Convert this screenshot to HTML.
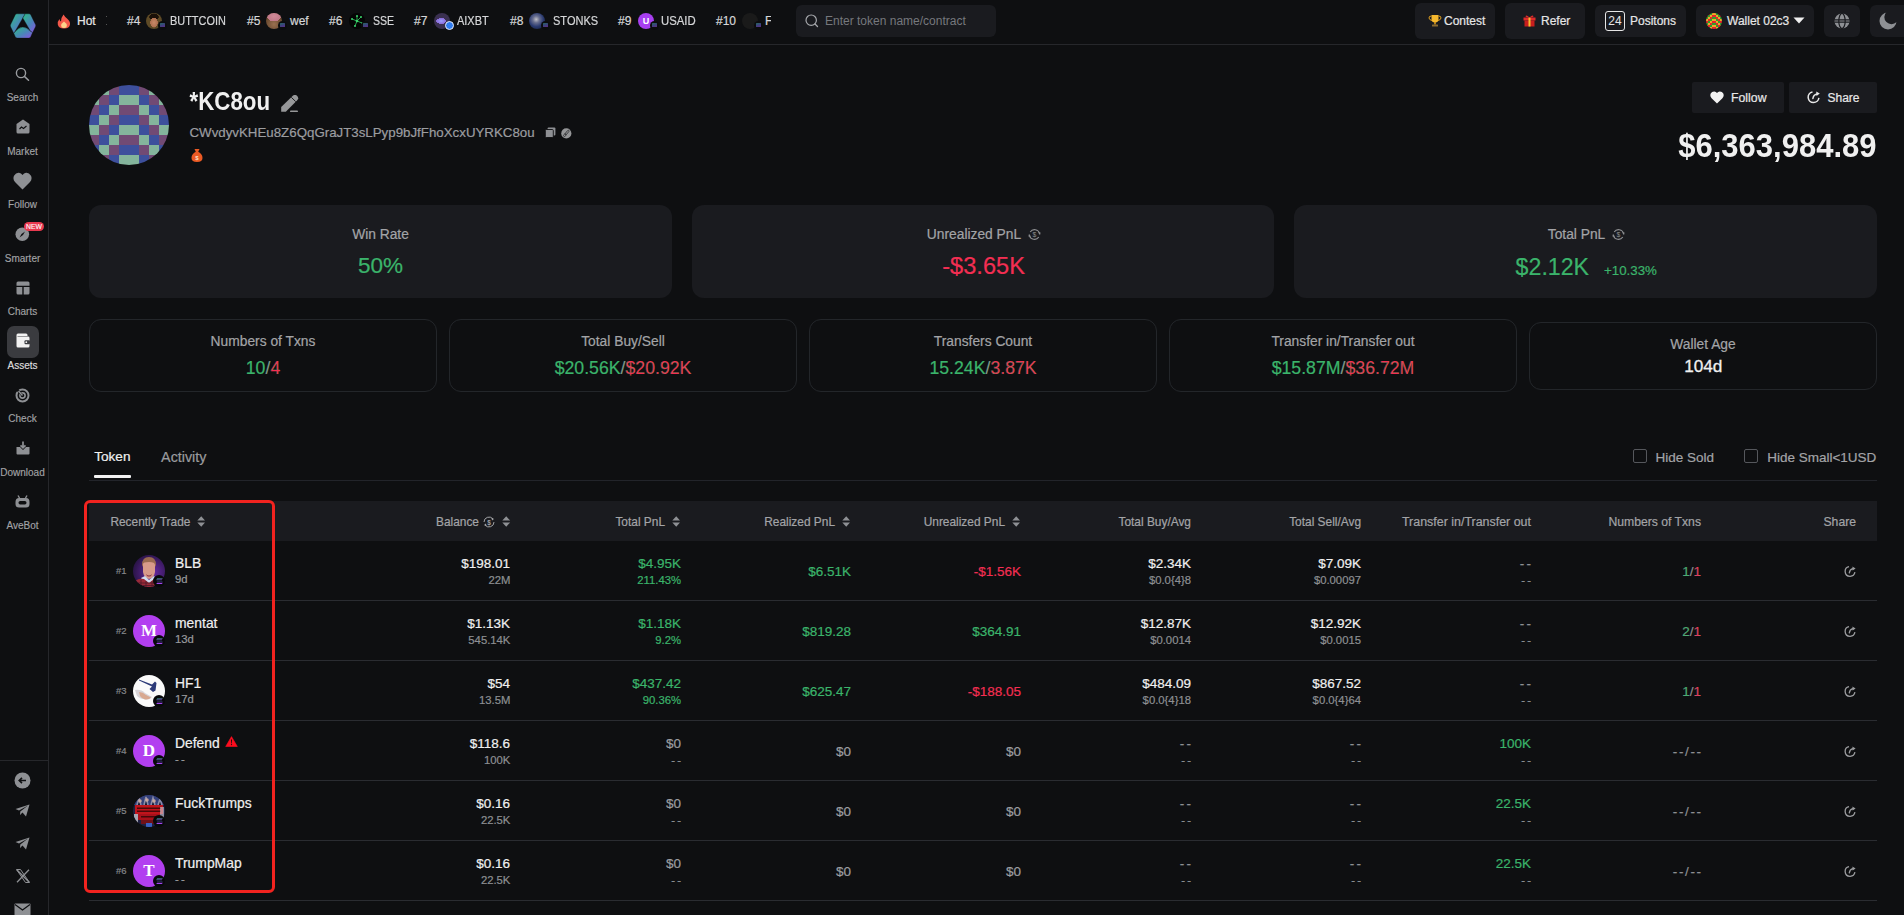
<!DOCTYPE html>
<html><head><meta charset="utf-8">
<style>
*{margin:0;padding:0;box-sizing:border-box}
html,body{width:1904px;height:915px;overflow:hidden;background:#0e0f11;font-family:"Liberation Sans",sans-serif;color:#e8e8e8}
.a{position:absolute;white-space:nowrap}
#side{position:absolute;left:0;top:0;width:49px;height:915px;border-right:1px solid #26272b;background:#0e0f11}
#top{position:absolute;left:49px;top:0;width:1855px;height:45px;border-bottom:1px solid #26272b}
.sl{position:absolute;left:-0.5px;width:46px;text-align:center;font-size:10px;line-height:12px;color:#a2a3a6;-webkit-text-stroke:0.15px #a2a3a6}
.tk{font-size:12px;color:#d6d7d9;-webkit-text-stroke:0.2px #d6d7d9}
.btn{position:absolute;background:#1a1b1f;border-radius:4px}
.card{position:absolute;background:#1a1b1f;border-radius:10px}
.ocard{position:absolute;border:1px solid #26272b;border-radius:8px}
.lbl{position:absolute;left:0;right:0;text-align:center;font-size:13px;color:#a4a6aa}
.val{position:absolute;left:0;right:0;text-align:center;font-size:18px}
.g{color:#3fb16a}.r{color:#ee3553}.w{color:#f2f2f2}.gr{color:#8c8e93}
</style></head><body>
<div id="side">
<svg class="a" style="left:10px;top:13px" width="27" height="26" viewBox="0 0 27 26">
<defs><linearGradient id="lg" x1="0" y1="0" x2="1" y2="1"><stop offset="0" stop-color="#2cbf86"/><stop offset="0.55" stop-color="#4a86b8"/><stop offset="1" stop-color="#8d4fe6"/></linearGradient></defs>
<g stroke="#0e0f11" stroke-width="0.35" stroke-linejoin="round">
<path d="M15.25 0.8 L7 0.8 Q5.8 0.8 5.2 1.9 L0.6 11.6 Q0.1 12.7 0.6 13.8 L3.83 20.4 L12.8 5Z" fill="url(#lg)"/>
<path d="M15.25 0.8 L19 0.8 Q20.2 0.8 20.8 1.9 L25.5 11.6 Q26 12.7 25.5 13.8 L22.6 19.6 L20.5 18.3 L12.8 5Z" fill="url(#lg)"/>
<path d="M3.83 20.4 L5.4 24 Q6 25.1 7.2 25.1 L18.8 25.1 Q20 25.1 20.6 24 L22.6 19.6 L20.5 18.3 Q16.5 14.1 12.8 14.1 Q9 14.1 4.4 19.4Z" fill="url(#lg)"/>
</g></svg>
<svg class="a" style="left:15px;top:67px" width="15" height="14" viewBox="0 0 15 14"><circle cx="6" cy="6" r="4.6" fill="none" stroke="#9a9ca0" stroke-width="1.4"/><path d="M9.4 9.4 L13.5 13.3" stroke="#9a9ca0" stroke-width="1.5" stroke-linecap="round"/></svg>
<div class="sl" style="top:91.9px">Search</div>
<svg class="a" style="left:16px;top:119px" width="14" height="15" viewBox="0 0 14 15"><path d="M7 0.5 L13.5 5 L13.5 13 Q13.5 14.5 12 14.5 L2 14.5 Q0.5 14.5 0.5 13 L0.5 5Z" fill="#8e9094"/><path d="M3.5 10 L5.5 8 L7.5 9.5 L10.5 7" stroke="#0e0f11" stroke-width="1.1" fill="none"/></svg>
<div class="sl" style="top:145.9px">Market</div>
<svg class="a" style="left:13px;top:172px" width="19" height="18" viewBox="0 0 19 18"><path d="M9.5 17.5 L2 10 Q-0.5 7 1 3.8 Q3 0.5 6 0.8 Q8.2 1 9.5 3 Q10.8 1 13 0.8 Q16 0.5 18 3.8 Q19.5 7 17 10Z" fill="#8e9094"/></svg>
<div class="sl" style="top:198.9px">Follow</div>
<svg class="a" style="left:15px;top:227px" width="15" height="15" viewBox="0 0 15 15"><circle cx="7.3" cy="7.3" r="6.8" fill="#8e9094"/><path d="M10 4.5 L8 8 L4.5 10.5 L6.5 7Z" fill="#0e0f11"/></svg>
<div class="a" style="left:24px;top:222px;width:20px;height:9px;background:#e8394f;border-radius:5px;font-size:6.8px;color:#fff;text-align:center;line-height:9px;-webkit-text-stroke:0.1px #fff">NEW</div>
<div class="sl" style="top:253.1px">Smarter</div>
<svg class="a" style="left:16px;top:281px" width="14" height="14" viewBox="0 0 14 14"><path d="M2 0.5 L12 0.5 Q13.5 0.5 13.5 2 L13.5 4.8 L0.5 4.8 L0.5 2 Q0.5 0.5 2 0.5Z M0.5 6 L6.3 6 L6.3 13.5 L2 13.5 Q0.5 13.5 0.5 12Z M7.7 6 L13.5 6 L13.5 12 Q13.5 13.5 12 13.5 L7.7 13.5Z" fill="#8e9094"/></svg>
<div class="sl" style="top:306.0px">Charts</div>
<div class="a" style="left:7px;top:326px;width:32px;height:32px;background:#3a3b3f;border-radius:7px"></div>
<svg class="a" style="left:16px;top:333px" width="14" height="15" viewBox="0 0 14 15"><path d="M2 0.5 L10 0.5 Q11.5 0.5 11.5 2 L11.5 3 L2 3 Q1.2 3 1.2 3.6 L1.2 3.6 L12 3.6 Q13.5 3.6 13.5 5 L13.5 13 Q13.5 14.5 12 14.5 L2 14.5 Q0.5 14.5 0.5 13 L0.5 2 Q0.5 0.5 2 0.5Z" fill="#f2f2f2"/><rect x="8.5" y="7.2" width="5.5" height="4" rx="1" fill="#3a3b3f"/><circle cx="10.3" cy="9.2" r="0.9" fill="#f2f2f2"/></svg>
<div class="sl" style="top:359.6px;color:#f0f0f0">Assets</div>
<svg class="a" style="left:15px;top:388px" width="15" height="15" viewBox="0 0 15 15"><circle cx="7.5" cy="7.5" r="6" fill="none" stroke="#8e9094" stroke-width="2"/><circle cx="7.5" cy="7.5" r="2.6" fill="none" stroke="#8e9094" stroke-width="1.6"/><path d="M7.5 7.5 L2 1.5" stroke="#0e0f11" stroke-width="2.2"/><path d="M7.5 7.5 L3.5 3" stroke="#8e9094" stroke-width="1.4"/></svg>
<div class="sl" style="top:412.7px">Check</div>
<svg class="a" style="left:16px;top:441px" width="14" height="14" viewBox="0 0 14 14"><path d="M0.5 6 L4 6 L7 9 L10 6 L13.5 6 L13.5 12.5 Q13.5 13.5 12.5 13.5 L1.5 13.5 Q0.5 13.5 0.5 12.5Z" fill="#8e9094"/><path d="M7 0.5 L7 6.5 M4.5 4.3 L7 6.8 L9.5 4.3" stroke="#8e9094" stroke-width="1.7" fill="none"/></svg>
<div class="sl" style="top:466.7px">Download</div>
<svg class="a" style="left:15px;top:495px" width="15" height="13" viewBox="0 0 15 13"><path d="M3 0.5 L4.5 3 M12 0.5 L10.5 3" stroke="#8e9094" stroke-width="1.4"/><path d="M4 3 L11 3 Q14.5 3 14.5 7 L14.5 9 Q14.5 12.5 11 12.5 L4 12.5 Q0.5 12.5 0.5 9 L0.5 7 Q0.5 3 4 3Z" fill="#8e9094"/><rect x="3.5" y="6" width="8" height="3.5" rx="1.7" fill="#0e0f11"/></svg>
<div class="sl" style="top:520.1px">AveBot</div>
<div class="a" style="left:0;top:760px;width:48px;height:1px;background:#26272b"></div>
<svg class="a" style="left:14px;top:772px" width="17" height="17" viewBox="0 0 17 17"><circle cx="8.5" cy="8.5" r="8" fill="#8e9094"/><path d="M12 8.5 L5.5 8.5 M8 5.8 L5.2 8.5 L8 11.2" stroke="#0e0f11" stroke-width="1.6" fill="none"/></svg>
<svg class="a" style="left:15px;top:804px" width="15" height="13" viewBox="0 0 15 13"><path d="M14.5 0.5 L11 12.5 L7.5 8.5 L5 11 L5.3 7.5 L13 1.5 L4 6.5 L0.5 5Z" fill="#8e9094"/></svg>
<svg class="a" style="left:15px;top:837px" width="15" height="13" viewBox="0 0 15 13"><path d="M14.5 0.5 L11 12.5 L7.5 8.5 L5 11 L5.3 7.5 L13 1.5 L4 6.5 L0.5 5Z" fill="#8e9094"/></svg>
<svg class="a" style="left:16px;top:869px" width="14" height="14" viewBox="0 0 14 14"><path d="M0.8 0.8 L13.2 13.2 M13 0.8 L1 13.2" stroke="#8e9094" stroke-width="1.3"/><path d="M0.5 0.5 L4.5 0.5 L13.5 13.5 L9.5 13.5Z" fill="none" stroke="#8e9094" stroke-width="1"/></svg>
<svg class="a" style="left:14px;top:903px" width="17" height="12" viewBox="0 0 17 12"><rect x="0.5" y="0.5" width="16" height="12" rx="1" fill="#8e9094"/><path d="M1 1.5 L8.5 7 L16 1.5" stroke="#0e0f11" stroke-width="1.2" fill="none"/></svg>
</div>
<div id="top"></div>
<svg class="a" style="left:57px;top:14px" width="14" height="15" viewBox="0 0 14 15"><path d="M6.5 0.5 Q8 3 10 4.5 Q13.5 7.5 13 10.5 Q12.5 14.5 7 14.5 Q1.5 14.5 0.8 10.5 Q0.3 7.5 2.5 5 Q2.8 7 4 7.5 Q4 3.5 6.5 0.5Z" fill="#f4584a"/><path d="M7 7.5 Q9.8 9.5 9.8 11.5 Q9.8 14 7 14 Q4.2 14 4.2 11.5 Q4.2 9.5 7 7.5Z" fill="#fdd28a"/></svg>
<div class="a tk" style="left:77px;top:14px;color:#e6e6e6;-webkit-text-stroke:0.2px #e6e6e6">Hot</div>
<div class="a" style="left:106px;top:16px;width:1px;height:1px;background:#555"></div><div class="a" style="left:106px;top:24px;width:1px;height:1px;background:#555"></div>
<div class="a tk" style="left:127px;top:14px">#4</div><div class="a" style="left:146px;top:13px;width:16px;height:16px;border-radius:50%;overflow:hidden"><div style="width:16px;height:16px;background:radial-gradient(ellipse 32% 42% at 50% 60%,#c88a68 0,#b07050 70%,transparent 75%),radial-gradient(ellipse 40% 30% at 50% 25%,#1a1008 0,#1a1008 70%,transparent 75%),#5e4a26"></div></div><div class="a" style="left:158.3px;top:20.5px;width:9px;height:9px;border-radius:50%;background:#0b0c0e"></div><div class="a" style="left:160.3px;top:23px;width:4.5px;height:4px;border-radius:0.5px;background:linear-gradient(160deg,#3aa890,#5a68c8 50%,#9a40d8);opacity:0.6"></div>
<div class="a tk" style="left:170px;top:14px;transform:scaleX(0.91);transform-origin:0 0">BUTTCOIN</div>
<div class="a tk" style="left:247px;top:14px">#5</div><div class="a" style="left:266px;top:13px;width:16px;height:16px;border-radius:50%;overflow:hidden"><div style="width:16px;height:16px;background:radial-gradient(ellipse 60% 45% at 50% 20%,#d08a98 0,#c07888 70%,transparent 72%),radial-gradient(circle at 50% 70%,#9a7050 0,#6a4a30 60%,#3a2a20 100%)"></div></div><div class="a" style="left:278.3px;top:20.5px;width:9px;height:9px;border-radius:50%;background:#0b0c0e"></div><div class="a" style="left:280.3px;top:23px;width:4.5px;height:4px;border-radius:0.5px;background:linear-gradient(160deg,#3aa890,#5a68c8 50%,#9a40d8);opacity:0.6"></div>
<div class="a tk" style="left:290px;top:14px">wef</div>
<div class="a tk" style="left:329px;top:14px">#6</div><div class="a" style="left:349px;top:13px;width:16px;height:16px;border-radius:50%;overflow:hidden"><svg width="16" height="16"><rect width="16" height="16" fill="#050505"/><path d="M3 6 L8 8 L12 4 M8 8 L6 13 M8 8 L13 10 M8 3 L8 8" stroke="#2fb85a" stroke-width="0.9"/><circle cx="8" cy="8" r="1.3" fill="#3ad36b"/><circle cx="3" cy="6" r="1" fill="#3ad36b"/><circle cx="12" cy="4" r="1" fill="#3ad36b"/><circle cx="6" cy="13" r="1" fill="#3ad36b"/><circle cx="13" cy="10" r="1" fill="#3ad36b"/><circle cx="8" cy="3" r="1" fill="#3ad36b"/></svg></div><div class="a" style="left:361.3px;top:20.5px;width:9px;height:9px;border-radius:50%;background:#0b0c0e"></div><div class="a" style="left:363.3px;top:23px;width:4.5px;height:4px;border-radius:0.5px;background:linear-gradient(160deg,#3aa890,#5a68c8 50%,#9a40d8);opacity:0.6"></div>
<div class="a tk" style="left:373px;top:14px;transform:scaleX(0.88);transform-origin:0 0">SSE</div>
<div class="a tk" style="left:414px;top:14px">#7</div><div class="a" style="left:434px;top:13px;width:16px;height:16px;border-radius:50%;overflow:hidden"><div style="width:16px;height:16px;background:radial-gradient(ellipse 50% 30% at 45% 50%,#9aa0ff 0,#8a6ad8 60%,transparent 62%),#3a3050"></div></div><div class="a" style="left:445px;top:21px;width:9px;height:9px;border-radius:50%;background:#2f7cf0;border:1.3px solid #e8eefc"></div>
<div class="a tk" style="left:457px;top:14px;transform:scaleX(0.915);transform-origin:0 0">AIXBT</div>
<div class="a tk" style="left:510px;top:14px">#8</div><div class="a" style="left:529px;top:13px;width:16px;height:16px;border-radius:50%;overflow:hidden"><div style="width:16px;height:16px;background:radial-gradient(circle at 45% 40%,#c0c0c8 0,#6a7090 25%,#2a3a70 55%,#101830 100%)"></div></div><div class="a" style="left:541.3px;top:20.5px;width:9px;height:9px;border-radius:50%;background:#0b0c0e"></div><div class="a" style="left:543.3px;top:23px;width:4.5px;height:4px;border-radius:0.5px;background:linear-gradient(160deg,#3aa890,#5a68c8 50%,#9a40d8);opacity:0.6"></div>
<div class="a tk" style="left:553px;top:14px;transform:scaleX(0.918);transform-origin:0 0">STONKS</div>
<div class="a tk" style="left:618px;top:14px">#9</div><div class="a" style="left:638px;top:13px;width:16px;height:16px;border-radius:50%;overflow:hidden"><div style="width:16px;height:16px;background:#a83ff0;color:#fff;font-size:9px;font-weight:bold;text-align:center;line-height:16px">U</div></div><div class="a" style="left:650.3px;top:20.5px;width:9px;height:9px;border-radius:50%;background:#0b0c0e"></div><div class="a" style="left:652.3px;top:23px;width:4.5px;height:4px;border-radius:0.5px;background:linear-gradient(160deg,#3aa890,#5a68c8 50%,#9a40d8);opacity:0.6"></div>
<div class="a tk" style="left:661px;top:14px;transform:scaleX(0.946);transform-origin:0 0">USAID</div>
<div class="a tk" style="left:716px;top:14px">#10</div><div class="a" style="left:742px;top:13px;width:16px;height:16px;border-radius:50%;overflow:hidden"><div style="width:16px;height:16px;background:#1a1a1a"></div></div><div class="a" style="left:754.3px;top:20.5px;width:9px;height:9px;border-radius:50%;background:#0b0c0e"></div><div class="a" style="left:756.3px;top:23px;width:4.5px;height:4px;border-radius:0.5px;background:linear-gradient(160deg,#3aa890,#5a68c8 50%,#9a40d8);opacity:0.6"></div>
<div class="a tk" style="left:765px;top:14px;width:6px;overflow:hidden">F</div>
<div class="btn" style="left:796px;top:5px;width:200px;height:32px;border-radius:6px"></div>
<svg class="a" style="left:805px;top:14px" width="14" height="14" viewBox="0 0 14 14"><circle cx="6.2" cy="6.2" r="5.2" fill="none" stroke="#a6a8ac" stroke-width="1.2"/><path d="M10 10 L12.5 12.5" stroke="#a6a8ac" stroke-width="1.3" stroke-linecap="round"/></svg>
<div class="a" style="left:825px;top:14px;font-size:12px;color:#76787d">Enter token name/contract</div>
<div class="btn" style="left:1415px;top:3px;width:80px;height:36px;border-radius:6px"></div>
<svg class="a" style="left:1428px;top:14px" width="14" height="13" viewBox="0 0 14 13"><path d="M3.5 1 L10.5 1 L10.5 5 Q10.5 8.5 7 8.5 Q3.5 8.5 3.5 5Z" fill="#f5b82e"/><path d="M3.5 2 Q0.8 2 1 4 Q1.3 6 4 6.5 M10.5 2 Q13.2 2 13 4 Q12.7 6 10 6.5" stroke="#e0a020" stroke-width="1" fill="none"/><rect x="6.2" y="8" width="1.6" height="2.5" fill="#d89a1a"/><rect x="4" y="10.5" width="6" height="2" rx="0.5" fill="#8a6a30"/></svg>
<div class="a" style="left:1444px;top:14px;font-size:12px;color:#e6e6e6;-webkit-text-stroke:0.2px #e6e6e6">Contest</div>
<div class="btn" style="left:1505px;top:3px;width:80px;height:36px;border-radius:6px"></div>
<svg class="a" style="left:1523px;top:14px" width="13" height="13" viewBox="0 0 13 13"><rect x="0.5" y="3.5" width="12" height="3" fill="#e02a2a"/><rect x="1.5" y="6.5" width="10" height="6" fill="#c81e1e"/><rect x="5.5" y="3.5" width="2" height="9" fill="#f5c030"/><path d="M6.5 3.5 Q3 0 2.5 2.5 Q3 3.5 6.5 3.5 Q10 3.5 10.5 2.5 Q10 0 6.5 3.5" fill="#e02a2a"/></svg>
<div class="a" style="left:1541px;top:14px;font-size:12px;color:#e6e6e6;-webkit-text-stroke:0.2px #e6e6e6">Refer</div>
<div class="btn" style="left:1595px;top:5px;width:91px;height:32px;border-radius:6px"></div>
<div class="a" style="left:1605px;top:11px;width:20px;height:20px;border:1.3px solid #e6e6e6;border-radius:3px;font-size:12px;color:#e6e6e6;text-align:center;line-height:18px">24</div>
<div class="a" style="left:1630px;top:14px;font-size:12px;color:#e6e6e6;-webkit-text-stroke:0.2px #e6e6e6">Positons</div>
<div class="btn" style="left:1696px;top:5px;width:118px;height:32px;border-radius:6px"></div>
<svg class="a" style="left:1706px;top:13px" width="16" height="16" viewBox="0 0 16 16"><defs><clipPath id="wc"><circle cx="8" cy="8" r="8"/></clipPath></defs><g clip-path="url(#wc)"><rect x="0" y="0" width="2.05" height="2.05" fill="#eda92a"/><rect x="2" y="0" width="2.05" height="2.05" fill="#e3262a"/><rect x="4" y="0" width="2.05" height="2.05" fill="#2fa02c"/><rect x="6" y="0" width="2.05" height="2.05" fill="#eda92a"/><rect x="8" y="0" width="2.05" height="2.05" fill="#eda92a"/><rect x="10" y="0" width="2.05" height="2.05" fill="#2fa02c"/><rect x="12" y="0" width="2.05" height="2.05" fill="#e3262a"/><rect x="14" y="0" width="2.05" height="2.05" fill="#eda92a"/><rect x="0" y="2" width="2.05" height="2.05" fill="#e3262a"/><rect x="2" y="2" width="2.05" height="2.05" fill="#2fa02c"/><rect x="4" y="2" width="2.05" height="2.05" fill="#eda92a"/><rect x="6" y="2" width="2.05" height="2.05" fill="#e3262a"/><rect x="8" y="2" width="2.05" height="2.05" fill="#e3262a"/><rect x="10" y="2" width="2.05" height="2.05" fill="#eda92a"/><rect x="12" y="2" width="2.05" height="2.05" fill="#2fa02c"/><rect x="14" y="2" width="2.05" height="2.05" fill="#e3262a"/><rect x="0" y="4" width="2.05" height="2.05" fill="#2fa02c"/><rect x="2" y="4" width="2.05" height="2.05" fill="#eda92a"/><rect x="4" y="4" width="2.05" height="2.05" fill="#e3262a"/><rect x="6" y="4" width="2.05" height="2.05" fill="#2fa02c"/><rect x="8" y="4" width="2.05" height="2.05" fill="#2fa02c"/><rect x="10" y="4" width="2.05" height="2.05" fill="#e3262a"/><rect x="12" y="4" width="2.05" height="2.05" fill="#eda92a"/><rect x="14" y="4" width="2.05" height="2.05" fill="#2fa02c"/><rect x="0" y="6" width="2.05" height="2.05" fill="#eda92a"/><rect x="2" y="6" width="2.05" height="2.05" fill="#e3262a"/><rect x="4" y="6" width="2.05" height="2.05" fill="#2fa02c"/><rect x="6" y="6" width="2.05" height="2.05" fill="#eda92a"/><rect x="8" y="6" width="2.05" height="2.05" fill="#eda92a"/><rect x="10" y="6" width="2.05" height="2.05" fill="#2fa02c"/><rect x="12" y="6" width="2.05" height="2.05" fill="#e3262a"/><rect x="14" y="6" width="2.05" height="2.05" fill="#eda92a"/><rect x="0" y="8" width="2.05" height="2.05" fill="#e3262a"/><rect x="2" y="8" width="2.05" height="2.05" fill="#2fa02c"/><rect x="4" y="8" width="2.05" height="2.05" fill="#eda92a"/><rect x="6" y="8" width="2.05" height="2.05" fill="#e3262a"/><rect x="8" y="8" width="2.05" height="2.05" fill="#e3262a"/><rect x="10" y="8" width="2.05" height="2.05" fill="#eda92a"/><rect x="12" y="8" width="2.05" height="2.05" fill="#2fa02c"/><rect x="14" y="8" width="2.05" height="2.05" fill="#e3262a"/><rect x="0" y="10" width="2.05" height="2.05" fill="#2fa02c"/><rect x="2" y="10" width="2.05" height="2.05" fill="#eda92a"/><rect x="4" y="10" width="2.05" height="2.05" fill="#e3262a"/><rect x="6" y="10" width="2.05" height="2.05" fill="#2fa02c"/><rect x="8" y="10" width="2.05" height="2.05" fill="#2fa02c"/><rect x="10" y="10" width="2.05" height="2.05" fill="#e3262a"/><rect x="12" y="10" width="2.05" height="2.05" fill="#eda92a"/><rect x="14" y="10" width="2.05" height="2.05" fill="#2fa02c"/><rect x="0" y="12" width="2.05" height="2.05" fill="#eda92a"/><rect x="2" y="12" width="2.05" height="2.05" fill="#e3262a"/><rect x="4" y="12" width="2.05" height="2.05" fill="#2fa02c"/><rect x="6" y="12" width="2.05" height="2.05" fill="#eda92a"/><rect x="8" y="12" width="2.05" height="2.05" fill="#eda92a"/><rect x="10" y="12" width="2.05" height="2.05" fill="#2fa02c"/><rect x="12" y="12" width="2.05" height="2.05" fill="#e3262a"/><rect x="14" y="12" width="2.05" height="2.05" fill="#eda92a"/><rect x="0" y="14" width="2.05" height="2.05" fill="#e3262a"/><rect x="2" y="14" width="2.05" height="2.05" fill="#2fa02c"/><rect x="4" y="14" width="2.05" height="2.05" fill="#eda92a"/><rect x="6" y="14" width="2.05" height="2.05" fill="#e3262a"/><rect x="8" y="14" width="2.05" height="2.05" fill="#e3262a"/><rect x="10" y="14" width="2.05" height="2.05" fill="#eda92a"/><rect x="12" y="14" width="2.05" height="2.05" fill="#2fa02c"/><rect x="14" y="14" width="2.05" height="2.05" fill="#e3262a"/></g></svg>
<div class="a" style="left:1727px;top:14px;font-size:12px;color:#e6e6e6;-webkit-text-stroke:0.2px #e6e6e6">Wallet 02c3</div>
<svg class="a" style="left:1793px;top:17px" width="12" height="7" viewBox="0 0 12 7"><path d="M0.5 0.5 L11.5 0.5 L6 6.5Z" fill="#f0f0f0"/></svg>
<div class="btn" style="left:1824px;top:5px;width:36px;height:32px;border-radius:6px"></div>
<svg class="a" style="left:1834px;top:13px" width="16" height="16" viewBox="0 0 16 16"><circle cx="8" cy="8" r="7.5" fill="#8e9094"/><path d="M0.5 6.8 L15.5 6.8 M0.5 9.2 L15.5 9.2" stroke="#1a1b1f" stroke-width="1.2"/><ellipse cx="8" cy="8" rx="3.2" ry="7.5" fill="none" stroke="#1a1b1f" stroke-width="1.2"/></svg>
<div class="btn" style="left:1870px;top:5px;width:40px;height:32px;border-radius:6px"></div>
<svg class="a" style="left:1879px;top:11px" width="18" height="19" viewBox="0 0 18 19"><defs><mask id="mm"><rect width="18" height="19" fill="#fff"/><circle cx="12.5" cy="6" r="7.2" fill="#000"/></mask></defs><circle cx="9" cy="10" r="8.5" fill="#8e9094" mask="url(#mm)"/></svg>

<svg class="a" style="left:89px;top:85px" width="80" height="80" viewBox="0 0 80 80"><defs><clipPath id="cav"><circle cx="40" cy="40" r="40"/></clipPath></defs><g clip-path="url(#cav)"><rect x="0" y="0" width="10.2" height="10.2" fill="#3d4f9c"/><rect x="10" y="0" width="10.2" height="10.2" fill="#84b49c"/><rect x="20" y="0" width="10.2" height="10.2" fill="#714a74"/><rect x="30" y="0" width="10.2" height="10.2" fill="#3d4f9c"/><rect x="40" y="0" width="10.2" height="10.2" fill="#3d4f9c"/><rect x="50" y="0" width="10.2" height="10.2" fill="#714a74"/><rect x="60" y="0" width="10.2" height="10.2" fill="#84b49c"/><rect x="70" y="0" width="10.2" height="10.2" fill="#3d4f9c"/><rect x="0" y="10" width="10.2" height="10.2" fill="#84b49c"/><rect x="10" y="10" width="10.2" height="10.2" fill="#714a74"/><rect x="20" y="10" width="10.2" height="10.2" fill="#3d4f9c"/><rect x="30" y="10" width="10.2" height="10.2" fill="#84b49c"/><rect x="40" y="10" width="10.2" height="10.2" fill="#84b49c"/><rect x="50" y="10" width="10.2" height="10.2" fill="#3d4f9c"/><rect x="60" y="10" width="10.2" height="10.2" fill="#714a74"/><rect x="70" y="10" width="10.2" height="10.2" fill="#84b49c"/><rect x="0" y="20" width="10.2" height="10.2" fill="#714a74"/><rect x="10" y="20" width="10.2" height="10.2" fill="#3d4f9c"/><rect x="20" y="20" width="10.2" height="10.2" fill="#84b49c"/><rect x="30" y="20" width="10.2" height="10.2" fill="#714a74"/><rect x="40" y="20" width="10.2" height="10.2" fill="#714a74"/><rect x="50" y="20" width="10.2" height="10.2" fill="#84b49c"/><rect x="60" y="20" width="10.2" height="10.2" fill="#3d4f9c"/><rect x="70" y="20" width="10.2" height="10.2" fill="#714a74"/><rect x="0" y="30" width="10.2" height="10.2" fill="#3d4f9c"/><rect x="10" y="30" width="10.2" height="10.2" fill="#84b49c"/><rect x="20" y="30" width="10.2" height="10.2" fill="#714a74"/><rect x="30" y="30" width="10.2" height="10.2" fill="#3d4f9c"/><rect x="40" y="30" width="10.2" height="10.2" fill="#3d4f9c"/><rect x="50" y="30" width="10.2" height="10.2" fill="#714a74"/><rect x="60" y="30" width="10.2" height="10.2" fill="#84b49c"/><rect x="70" y="30" width="10.2" height="10.2" fill="#3d4f9c"/><rect x="0" y="40" width="10.2" height="10.2" fill="#84b49c"/><rect x="10" y="40" width="10.2" height="10.2" fill="#714a74"/><rect x="20" y="40" width="10.2" height="10.2" fill="#3d4f9c"/><rect x="30" y="40" width="10.2" height="10.2" fill="#84b49c"/><rect x="40" y="40" width="10.2" height="10.2" fill="#84b49c"/><rect x="50" y="40" width="10.2" height="10.2" fill="#3d4f9c"/><rect x="60" y="40" width="10.2" height="10.2" fill="#714a74"/><rect x="70" y="40" width="10.2" height="10.2" fill="#84b49c"/><rect x="0" y="50" width="10.2" height="10.2" fill="#714a74"/><rect x="10" y="50" width="10.2" height="10.2" fill="#3d4f9c"/><rect x="20" y="50" width="10.2" height="10.2" fill="#84b49c"/><rect x="30" y="50" width="10.2" height="10.2" fill="#714a74"/><rect x="40" y="50" width="10.2" height="10.2" fill="#714a74"/><rect x="50" y="50" width="10.2" height="10.2" fill="#84b49c"/><rect x="60" y="50" width="10.2" height="10.2" fill="#3d4f9c"/><rect x="70" y="50" width="10.2" height="10.2" fill="#714a74"/><rect x="0" y="60" width="10.2" height="10.2" fill="#3d4f9c"/><rect x="10" y="60" width="10.2" height="10.2" fill="#84b49c"/><rect x="20" y="60" width="10.2" height="10.2" fill="#714a74"/><rect x="30" y="60" width="10.2" height="10.2" fill="#3d4f9c"/><rect x="40" y="60" width="10.2" height="10.2" fill="#3d4f9c"/><rect x="50" y="60" width="10.2" height="10.2" fill="#714a74"/><rect x="60" y="60" width="10.2" height="10.2" fill="#84b49c"/><rect x="70" y="60" width="10.2" height="10.2" fill="#3d4f9c"/><rect x="0" y="70" width="10.2" height="10.2" fill="#84b49c"/><rect x="10" y="70" width="10.2" height="10.2" fill="#714a74"/><rect x="20" y="70" width="10.2" height="10.2" fill="#3d4f9c"/><rect x="30" y="70" width="10.2" height="10.2" fill="#84b49c"/><rect x="40" y="70" width="10.2" height="10.2" fill="#84b49c"/><rect x="50" y="70" width="10.2" height="10.2" fill="#3d4f9c"/><rect x="60" y="70" width="10.2" height="10.2" fill="#714a74"/><rect x="70" y="70" width="10.2" height="10.2" fill="#84b49c"/></g></svg>
<div class="a" style="top:91.82px;font-size:22.3px;line-height:22.3px;color:#f0f0f0;transform:scaleY(1.13);transform-origin:0 18.88px;font-weight:bold;left:189.5px;">*KC8ou</div>
<svg class="a" style="left:281px;top:95px" width="18" height="18" viewBox="0 0 18 18"><path d="M0.2 12.1 L11.8 0.8 Q14 -1.1 16.2 1 Q18.2 3.2 16.2 5.3 L4.8 16.8 L0.2 16.8Z" fill="#969799"/><path d="M10.3 2.3 L14.7 6.6" stroke="#0e0f11" stroke-width="0.9"/><rect x="9" y="15.4" width="8" height="1.7" rx="0.85" fill="#969799"/></svg>
<div class="a" style="top:125.74px;font-size:13.3px;line-height:13.3px;color:#9c9da0;-webkit-text-stroke:0.2px #9c9da0;left:189.5px;">CWvdyvKHEu8Z6QqGraJT3sLPyp9bJfFhoXcxUYRKC8ou</div>
<svg class="a" style="left:545px;top:127px" width="11" height="11" viewBox="0 0 11 11"><rect x="2.6" y="0.6" width="7.8" height="7.8" rx="1" fill="#8e9094"/><rect x="0.3" y="2.5" width="8" height="8" rx="1" fill="#8e9094" stroke="#0e0f11" stroke-width="0.9"/></svg>
<svg class="a" style="left:561px;top:128px" width="11" height="11" viewBox="0 0 11 11"><circle cx="5.3" cy="5.4" r="5.1" fill="#959698"/><g transform="rotate(-50 5.3 5.4)" fill="none" stroke="#2a2b2e" stroke-width="0.75"><ellipse cx="3" cy="5.4" rx="1.5" ry="1.05"/><rect x="4" y="4.6" width="5.2" height="1.6" rx="0.8"/></g></svg>
<svg class="a" style="left:191px;top:148px" width="12" height="15" viewBox="0 0 12 15"><path d="M3.5 1 L8.5 1 L7.2 3.8 Q11.5 6 11.5 10 Q11.5 14 6 14 Q0.5 14 0.5 10 Q0.5 6 4.8 3.8Z" fill="#eb5a24"/><text x="6" y="12" font-size="6" font-weight="bold" text-anchor="middle" fill="#fde1c8" font-family="Liberation Sans">$</text></svg>
<div class="a" style="left:1692px;top:82px;width:92px;height:31px;background:#1a1b1f;border-radius:2px"></div>
<div class="a" style="left:1789px;top:82px;width:88px;height:31px;background:#1a1b1f;border-radius:2px"></div>
<svg class="a" style="left:1709.5px;top:91px" width="14" height="13" viewBox="0 0 14 13"><path d="M7 12.6 L1.6 7.3 Q-0.4 5 0.7 2.5 Q1.9 0.3 4.3 0.4 Q6 0.5 7 2.1 Q8 0.5 9.7 0.4 Q12.1 0.3 13.3 2.5 Q14.4 5 12.4 7.3Z" fill="#f2f2f2"/></svg>
<div class="a" style="top:91.99px;font-size:12.3px;line-height:12.3px;color:#e8e8e8;-webkit-text-stroke:0.2px #e8e8e8;left:1731px;">Follow</div>
<svg class="a" style="left:1807px;top:91px" width="13" height="13" viewBox="0 0 13 13"><path d="M5.5 0.9 A5.4 5.4 0 1 0 11.9 6.9" fill="none" stroke="#e8e8e8" stroke-width="1.5"/><path d="M5.9 7.5 Q6.4 3.7 9.9 2.9" fill="none" stroke="#e8e8e8" stroke-width="1.5" stroke-linecap="round"/><path d="M9.2 0.5 L12.8 2.6 L9.5 5.1Z" fill="#e8e8e8"/></svg>
<div class="a" style="top:92.24px;font-size:12.0px;line-height:12.0px;color:#e8e8e8;-webkit-text-stroke:0.2px #e8e8e8;left:1827.5px;">Share</div>
<div class="a" style="top:130.55px;font-size:31px;line-height:31px;color:#f0f0f0;transform:scaleY(1.1);transform-origin:0 26.25px;font-weight:bold;right:27.5px;text-align:right;">$6,363,984.89</div>
<div class="a" style="left:89px;top:205px;width:583px;height:93px;background:#1a1b1f;border-radius:12px"></div>
<div class="a" style="left:692px;top:205px;width:582px;height:93px;background:#1a1b1f;border-radius:12px"></div>
<div class="a" style="left:1294px;top:205px;width:583px;height:93px;background:#1a1b1f;border-radius:12px"></div>
<div class="a" style="top:227.52px;font-size:13.8px;line-height:13.8px;color:#a3a4a7;-webkit-text-stroke:0.2px #a3a4a7;left:80.5px;width:600px;text-align:center;">Win Rate</div>
<div class="a" style="top:255.45px;font-size:22.5px;line-height:22.5px;color:#3bb46b;-webkit-text-stroke:0.2px #3bb46b;left:80.5px;width:600px;text-align:center;">50%</div>
<div class="a" style="top:227.52px;font-size:13.8px;line-height:13.8px;color:#a3a4a7;-webkit-text-stroke:0.2px #a3a4a7;left:674px;width:600px;text-align:center;">Unrealized PnL</div>
<svg class="a" style="left:1028px;top:228px" width="13" height="13" viewBox="0 0 13 13"><g fill="none" stroke="#8e8f92" stroke-width="1.1"><path d="M2.2 4 A5.2 5.2 0 0 1 11.6 5.6"/><path d="M10.8 9 A5.2 5.2 0 0 1 1.4 7.4"/></g><path d="M10.2 4.6 L12.6 4.4 L12 7.2Z M2.8 8.4 L0.4 8.6 L1 5.8Z" fill="#8e8f92"/><text x="6.5" y="9" font-size="6.8" text-anchor="middle" fill="#8e8f92" font-family="Liberation Sans">$</text></svg>
<div class="a" style="top:255.32px;font-size:23.6px;line-height:23.6px;color:#f32e52;-webkit-text-stroke:0.2px #f32e52;left:683.6px;width:600px;text-align:center;">-$3.65K</div>
<div class="a" style="top:227.52px;font-size:13.8px;line-height:13.8px;color:#a3a4a7;-webkit-text-stroke:0.2px #a3a4a7;left:1276.5px;width:600px;text-align:center;">Total PnL</div>
<svg class="a" style="left:1612px;top:228px" width="13" height="13" viewBox="0 0 13 13"><g fill="none" stroke="#8e8f92" stroke-width="1.1"><path d="M2.2 4 A5.2 5.2 0 0 1 11.6 5.6"/><path d="M10.8 9 A5.2 5.2 0 0 1 1.4 7.4"/></g><path d="M10.2 4.6 L12.6 4.4 L12 7.2Z M2.8 8.4 L0.4 8.6 L1 5.8Z" fill="#8e8f92"/><text x="6.5" y="9" font-size="6.8" text-anchor="middle" fill="#8e8f92" font-family="Liberation Sans">$</text></svg>
<div class="a" style="top:255.66px;font-size:23.2px;line-height:23.2px;color:#3bb46b;-webkit-text-stroke:0.2px #3bb46b;left:1515.6px;">$2.12K</div>
<div class="a" style="top:263.74px;font-size:13.3px;line-height:13.3px;color:#3bb46b;-webkit-text-stroke:0.2px #3bb46b;left:1604px;">+10.33%</div>
<div class="a" style="left:89px;top:319px;width:348px;height:73px;border:1px solid #23262a;border-radius:12px"></div>
<div class="a" style="top:334.62px;font-size:13.8px;line-height:13.8px;color:#a3a4a7;-webkit-text-stroke:0.2px #a3a4a7;left:-37.0px;width:600px;text-align:center;">Numbers of Txns</div>
<div class="a" style="top:360.31px;font-size:17.7px;line-height:17.7px;color:#3bb46b;-webkit-text-stroke:0.2px #3bb46b;left:-37.0px;width:600px;text-align:center;"><span style="color:#3bb46b">10</span><span style="color:#8d8f93">/</span><span style="color:#f32e52">4</span></div>
<div class="a" style="left:449px;top:319px;width:348px;height:73px;border:1px solid #23262a;border-radius:12px"></div>
<div class="a" style="top:334.62px;font-size:13.8px;line-height:13.8px;color:#a3a4a7;-webkit-text-stroke:0.2px #a3a4a7;left:323.0px;width:600px;text-align:center;">Total Buy/Sell</div>
<div class="a" style="top:360.31px;font-size:17.7px;line-height:17.7px;color:#3bb46b;-webkit-text-stroke:0.2px #3bb46b;left:323.0px;width:600px;text-align:center;"><span style="color:#3bb46b">$20.56K</span><span style="color:#8d8f93">/</span><span style="color:#f32e52">$20.92K</span></div>
<div class="a" style="left:809px;top:319px;width:348px;height:73px;border:1px solid #23262a;border-radius:12px"></div>
<div class="a" style="top:334.62px;font-size:13.8px;line-height:13.8px;color:#a3a4a7;-webkit-text-stroke:0.2px #a3a4a7;left:683.0px;width:600px;text-align:center;">Transfers Count</div>
<div class="a" style="top:360.31px;font-size:17.7px;line-height:17.7px;color:#3bb46b;-webkit-text-stroke:0.2px #3bb46b;left:683.0px;width:600px;text-align:center;"><span style="color:#3bb46b">15.24K</span><span style="color:#8d8f93">/</span><span style="color:#f32e52">3.87K</span></div>
<div class="a" style="left:1169px;top:319px;width:348px;height:73px;border:1px solid #23262a;border-radius:12px"></div>
<div class="a" style="top:334.62px;font-size:13.8px;line-height:13.8px;color:#a3a4a7;-webkit-text-stroke:0.2px #a3a4a7;left:1043.0px;width:600px;text-align:center;">Transfer in/Transfer out</div>
<div class="a" style="top:360.31px;font-size:17.7px;line-height:17.7px;color:#3bb46b;-webkit-text-stroke:0.2px #3bb46b;left:1043.0px;width:600px;text-align:center;"><span style="color:#3bb46b">$15.87M</span><span style="color:#8d8f93">/</span><span style="color:#f32e52">$36.72M</span></div>
<div class="a" style="left:1529px;top:322px;width:348px;height:68px;border:1px solid #23262a;border-radius:12px"></div>
<div class="a" style="top:337.62px;font-size:13.8px;line-height:13.8px;color:#a3a4a7;-webkit-text-stroke:0.2px #a3a4a7;left:1403px;width:600px;text-align:center;">Wallet Age</div>
<div class="a" style="top:358.44px;font-size:17.2px;line-height:17.2px;color:#f0f0f0;-webkit-text-stroke:0.3px #f0f0f0;left:1403.3px;width:600px;text-align:center;">104d</div>
<div class="a" style="top:450.38px;font-size:13.6px;line-height:13.6px;color:#f0f0f0;-webkit-text-stroke:0.2px #f0f0f0;left:94.2px;">Token</div>
<div class="a" style="top:449.79px;font-size:14.3px;line-height:14.3px;color:#9a9b9e;-webkit-text-stroke:0.2px #9a9b9e;left:161.1px;">Activity</div>
<div class="a" style="left:94px;top:475px;width:37px;height:3px;background:#f2f2f2;border-radius:1px"></div>
<div class="a" style="left:89px;top:480px;width:1788px;height:1px;background:#22242a"></div>
<div class="a" style="left:1633px;top:449px;width:14px;height:14px;border:1px solid #55575c;border-radius:2px"></div>
<div class="a" style="top:450.87px;font-size:13.5px;line-height:13.5px;color:#a3a4a7;-webkit-text-stroke:0.2px #a3a4a7;left:1655.5px;">Hide Sold</div>
<div class="a" style="left:1744px;top:449px;width:14px;height:14px;border:1px solid #55575c;border-radius:2px"></div>
<div class="a" style="top:450.87px;font-size:13.5px;line-height:13.5px;color:#a3a4a7;-webkit-text-stroke:0.2px #a3a4a7;left:1767.2px;">Hide Small&lt;1USD</div>
<div class="a" style="left:89px;top:501px;width:1788px;height:39.5px;background:#1a1b1f"></div>
<div class="a" style="top:516.52px;font-size:11.9px;line-height:11.9px;color:#a3a4a7;-webkit-text-stroke:0.2px #a3a4a7;left:110.4px;">Recently Trade</div>
<svg class="a" style="left:196.7px;top:516px" width="8.5" height="11" viewBox="0 0 8.5 11"><path d="M4.25 0.3 L8.2 4.6 L0.3 4.6Z M0.3 6.4 L8.2 6.4 L4.25 10.7Z" fill="#8e9094"/></svg>
<div class="a" style="top:516.52px;font-size:11.9px;line-height:11.9px;color:#a3a4a7;-webkit-text-stroke:0.2px #a3a4a7;right:1425px;text-align:right;">Balance</div>
<svg class="a" style="left:483px;top:516px" width="12" height="12" viewBox="0 0 12 12"><g fill="none" stroke="#a3a4a7" stroke-width="1"><path d="M11 6 A5 5 0 0 1 2.2 9.2"/><path d="M1 6 A5 5 0 0 1 9.8 2.8"/></g><path d="M8.6 1.4 L11 3 L9 4.6Z M3.4 10.6 L1 9 L3 7.4Z" fill="#a3a4a7"/><text x="6" y="8.5" font-size="6.5" font-weight="bold" text-anchor="middle" fill="#a3a4a7" font-family="Liberation Sans">$</text></svg>
<svg class="a" style="left:502px;top:516px" width="8.5" height="11" viewBox="0 0 8.5 11"><path d="M4.25 0.3 L8.2 4.6 L0.3 4.6Z M0.3 6.4 L8.2 6.4 L4.25 10.7Z" fill="#8e9094"/></svg>
<div class="a" style="top:516.52px;font-size:11.9px;line-height:11.9px;color:#a3a4a7;-webkit-text-stroke:0.2px #a3a4a7;right:1239px;text-align:right;">Total PnL</div>
<svg class="a" style="left:671.8px;top:516px" width="8.5" height="11" viewBox="0 0 8.5 11"><path d="M4.25 0.3 L8.2 4.6 L0.3 4.6Z M0.3 6.4 L8.2 6.4 L4.25 10.7Z" fill="#8e9094"/></svg>
<div class="a" style="top:516.52px;font-size:11.9px;line-height:11.9px;color:#a3a4a7;-webkit-text-stroke:0.2px #a3a4a7;right:1069px;text-align:right;">Realized PnL</div>
<svg class="a" style="left:841.8px;top:516px" width="8.5" height="11" viewBox="0 0 8.5 11"><path d="M4.25 0.3 L8.2 4.6 L0.3 4.6Z M0.3 6.4 L8.2 6.4 L4.25 10.7Z" fill="#8e9094"/></svg>
<div class="a" style="top:516.52px;font-size:11.9px;line-height:11.9px;color:#a3a4a7;-webkit-text-stroke:0.2px #a3a4a7;right:899px;text-align:right;">Unrealized PnL</div>
<svg class="a" style="left:1011.8px;top:516px" width="8.5" height="11" viewBox="0 0 8.5 11"><path d="M4.25 0.3 L8.2 4.6 L0.3 4.6Z M0.3 6.4 L8.2 6.4 L4.25 10.7Z" fill="#8e9094"/></svg>
<div class="a" style="top:516.52px;font-size:11.9px;line-height:11.9px;color:#a3a4a7;-webkit-text-stroke:0.2px #a3a4a7;right:713px;text-align:right;">Total Buy/Avg</div>
<div class="a" style="top:516.52px;font-size:11.9px;line-height:11.9px;color:#a3a4a7;-webkit-text-stroke:0.2px #a3a4a7;right:543px;text-align:right;">Total Sell/Avg</div>
<div class="a" style="top:516.06px;font-size:12.45px;line-height:12.45px;color:#a3a4a7;-webkit-text-stroke:0.2px #a3a4a7;right:373px;text-align:right;">Transfer in/Transfer out</div>
<div class="a" style="top:516.27px;font-size:12.2px;line-height:12.2px;color:#a3a4a7;-webkit-text-stroke:0.2px #a3a4a7;right:203px;text-align:right;">Numbers of Txns</div>
<div class="a" style="top:516.27px;font-size:12.2px;line-height:12.2px;color:#a3a4a7;-webkit-text-stroke:0.2px #a3a4a7;right:48px;text-align:right;">Share</div>
<div class="a" style="left:89px;top:600px;width:1788px;height:1px;background:#2a2c31"></div>
<div class="a" style="top:565.96px;font-size:9.5px;line-height:9.5px;color:#85878b;-webkit-text-stroke:0.2px #85878b;left:116px;">#1</div>
<svg class="a" style="left:133px;top:555px" width="32" height="32" viewBox="0 0 32 32"><defs><clipPath id="c1"><circle cx="16" cy="16" r="16"/></clipPath><radialGradient id="bg1" cx="0.6" cy="0.55" r="0.6"><stop offset="0" stop-color="#6a2aa8"/><stop offset="1" stop-color="#2a1448"/></radialGradient></defs><g clip-path="url(#c1)"><rect width="32" height="32" fill="url(#bg1)"/><path d="M9 10 Q9 2 16 2 Q23 2 23 10 L22 12 L10 12Z" fill="#9a6a50"/><path d="M10 9 Q10 7 16 7 Q22 7 22 10 L22 17 Q21 23 16 24 Q11 23 10 17Z" fill="#d89a8a"/><path d="M13 19 Q16 22 19 19 L18 21 Q16 22 14 21Z" fill="#8a3040"/><path d="M8 23 L12 21 L16 25 L21 21 L24 24 L20 28 L12 28Z" fill="#d0dcf0"/><path d="M0 32 L2 26 Q6 23 11 24 L16 28 L21 24 Q26 24 28 28 L30 32Z" fill="#9a2a38"/><path d="M3 28 L27 28 M5 30.5 L25 30.5 M8 25 L8 32 M13 26 L13 32 M19 26 L19 32 M24 25 L24 32" stroke="#4a1a28" stroke-width="0.8"/></g></svg>
<div class="a" style="left:153px;top:575px;width:12px;height:12px;background:#08090b;border-radius:50%"></div>
<svg class="a" style="left:155.5px;top:577.8px" width="7" height="6.5" viewBox="0 0 7 6.5"><defs><linearGradient id="sg0" x1="0" y1="0" x2="1" y2="1"><stop offset="0" stop-color="#40d8b0"/><stop offset="1" stop-color="#9a48f0"/></linearGradient></defs><path d="M1.2 0.4 L6.8 0.4 L5.8 1.6 L0.2 1.6Z" fill="url(#sg0)"/><path d="M0.2 2.6 L5.8 2.6 L6.8 3.8 L1.2 3.8Z" fill="#3a3a78" opacity="0.7"/><path d="M1.2 4.8 L6.8 4.8 L5.8 6 L0.2 6Z" fill="#a048f0"/></svg>
<div class="a" style="top:556.53px;font-size:13.9px;line-height:13.9px;color:#f0f0f0;-webkit-text-stroke:0.2px #f0f0f0;left:175px;">BLB</div>
<div class="a" style="top:574.13px;font-size:11.3px;line-height:11.3px;color:#9a9b9e;-webkit-text-stroke:0.2px #9a9b9e;left:175px;">9d</div>
<div class="a" style="top:556.77px;font-size:13.5px;line-height:13.5px;color:#f0f0f0;-webkit-text-stroke:0.2px #f0f0f0;right:1394px;text-align:right;">$198.01</div>
<div class="a" style="top:574.53px;font-size:11.3px;line-height:11.3px;color:#8d8f93;-webkit-text-stroke:0.2px #8d8f93;right:1393.6px;text-align:right;">22M</div>
<div class="a" style="top:556.77px;font-size:13.5px;line-height:13.5px;color:#3bb46b;-webkit-text-stroke:0.2px #3bb46b;right:1223px;text-align:right;">$4.95K</div>
<div class="a" style="top:574.53px;font-size:11.3px;line-height:11.3px;color:#3bb46b;-webkit-text-stroke:0.2px #3bb46b;right:1223px;text-align:right;">211.43%</div>
<div class="a" style="top:564.57px;font-size:13.5px;line-height:13.5px;color:#3bb46b;-webkit-text-stroke:0.2px #3bb46b;right:1053px;text-align:right;">$6.51K</div>
<div class="a" style="top:564.57px;font-size:13.5px;line-height:13.5px;color:#f32e52;-webkit-text-stroke:0.2px #f32e52;right:883px;text-align:right;">-$1.56K</div>
<div class="a" style="top:556.77px;font-size:13.5px;line-height:13.5px;color:#f0f0f0;-webkit-text-stroke:0.2px #f0f0f0;right:713px;text-align:right;">$2.34K</div>
<div class="a" style="top:574.53px;font-size:11.3px;line-height:11.3px;color:#8d8f93;-webkit-text-stroke:0.2px #8d8f93;right:713px;text-align:right;">$0.0{4}8</div>
<div class="a" style="top:556.77px;font-size:13.5px;line-height:13.5px;color:#f0f0f0;-webkit-text-stroke:0.2px #f0f0f0;right:543px;text-align:right;">$7.09K</div>
<div class="a" style="top:574.53px;font-size:11.3px;line-height:11.3px;color:#8d8f93;-webkit-text-stroke:0.2px #8d8f93;right:543px;text-align:right;">$0.00097</div>
<div class="a" style="top:556.77px;font-size:13.5px;line-height:13.5px;color:#8d8f93;-webkit-text-stroke:0.2px #8d8f93;right:373px;text-align:right;"><span style="letter-spacing:2.2px;margin-right:-2.2px">--</span></div>
<div class="a" style="top:574.53px;font-size:11.3px;line-height:11.3px;color:#8d8f93;-webkit-text-stroke:0.2px #8d8f93;right:373px;text-align:right;"><span style="letter-spacing:2.2px;margin-right:-2.2px">--</span></div>
<div class="a" style="top:564.57px;font-size:13.5px;line-height:13.5px;color:#8d8f93;-webkit-text-stroke:0.2px #8d8f93;right:203px;text-align:right;"><span style="color:#3bb46b">1</span><span style="color:#8d8f93">/</span><span style="color:#f32e52">1</span></div>
<svg class="a" style="left:1844px;top:566px" width="12" height="12" viewBox="0 0 12 12"><path d="M5 0.6 A4.9 4.9 0 1 0 10.9 6.2" fill="none" stroke="#9a9b9e" stroke-width="1.3"/><path d="M5.3 6.8 Q5.8 3.3 9 2.6" fill="none" stroke="#9a9b9e" stroke-width="1.3" stroke-linecap="round"/><path d="M8.4 0.5 L11.6 2.4 L8.6 4.6Z" fill="#9a9b9e"/></svg>
<div class="a" style="left:89px;top:660px;width:1788px;height:1px;background:#2a2c31"></div>
<div class="a" style="top:625.96px;font-size:9.5px;line-height:9.5px;color:#85878b;-webkit-text-stroke:0.2px #85878b;left:116px;">#2</div>
<div class="a" style="left:133px;top:615px;width:32px;height:32px;border-radius:50%;background:#b23ff0;color:#fff;font-family:'Liberation Serif',serif;font-weight:bold;font-size:17px;line-height:32px;text-align:center">M</div>
<div class="a" style="left:153px;top:635px;width:12px;height:12px;background:#08090b;border-radius:50%"></div>
<svg class="a" style="left:155.5px;top:637.8px" width="7" height="6.5" viewBox="0 0 7 6.5"><defs><linearGradient id="sg1" x1="0" y1="0" x2="1" y2="1"><stop offset="0" stop-color="#40d8b0"/><stop offset="1" stop-color="#9a48f0"/></linearGradient></defs><path d="M1.2 0.4 L6.8 0.4 L5.8 1.6 L0.2 1.6Z" fill="url(#sg1)"/><path d="M0.2 2.6 L5.8 2.6 L6.8 3.8 L1.2 3.8Z" fill="#3a3a78" opacity="0.7"/><path d="M1.2 4.8 L6.8 4.8 L5.8 6 L0.2 6Z" fill="#a048f0"/></svg>
<div class="a" style="top:616.53px;font-size:13.9px;line-height:13.9px;color:#f0f0f0;-webkit-text-stroke:0.2px #f0f0f0;left:175px;">mentat</div>
<div class="a" style="top:634.13px;font-size:11.3px;line-height:11.3px;color:#9a9b9e;-webkit-text-stroke:0.2px #9a9b9e;left:175px;">13d</div>
<div class="a" style="top:616.77px;font-size:13.5px;line-height:13.5px;color:#f0f0f0;-webkit-text-stroke:0.2px #f0f0f0;right:1394px;text-align:right;">$1.13K</div>
<div class="a" style="top:634.53px;font-size:11.3px;line-height:11.3px;color:#8d8f93;-webkit-text-stroke:0.2px #8d8f93;right:1393.6px;text-align:right;">545.14K</div>
<div class="a" style="top:616.77px;font-size:13.5px;line-height:13.5px;color:#3bb46b;-webkit-text-stroke:0.2px #3bb46b;right:1223px;text-align:right;">$1.18K</div>
<div class="a" style="top:634.53px;font-size:11.3px;line-height:11.3px;color:#3bb46b;-webkit-text-stroke:0.2px #3bb46b;right:1223px;text-align:right;">9.2%</div>
<div class="a" style="top:624.57px;font-size:13.5px;line-height:13.5px;color:#3bb46b;-webkit-text-stroke:0.2px #3bb46b;right:1053px;text-align:right;">$819.28</div>
<div class="a" style="top:624.57px;font-size:13.5px;line-height:13.5px;color:#3bb46b;-webkit-text-stroke:0.2px #3bb46b;right:883px;text-align:right;">$364.91</div>
<div class="a" style="top:616.77px;font-size:13.5px;line-height:13.5px;color:#f0f0f0;-webkit-text-stroke:0.2px #f0f0f0;right:713px;text-align:right;">$12.87K</div>
<div class="a" style="top:634.53px;font-size:11.3px;line-height:11.3px;color:#8d8f93;-webkit-text-stroke:0.2px #8d8f93;right:713px;text-align:right;">$0.0014</div>
<div class="a" style="top:616.77px;font-size:13.5px;line-height:13.5px;color:#f0f0f0;-webkit-text-stroke:0.2px #f0f0f0;right:543px;text-align:right;">$12.92K</div>
<div class="a" style="top:634.53px;font-size:11.3px;line-height:11.3px;color:#8d8f93;-webkit-text-stroke:0.2px #8d8f93;right:543px;text-align:right;">$0.0015</div>
<div class="a" style="top:616.77px;font-size:13.5px;line-height:13.5px;color:#8d8f93;-webkit-text-stroke:0.2px #8d8f93;right:373px;text-align:right;"><span style="letter-spacing:2.2px;margin-right:-2.2px">--</span></div>
<div class="a" style="top:634.53px;font-size:11.3px;line-height:11.3px;color:#8d8f93;-webkit-text-stroke:0.2px #8d8f93;right:373px;text-align:right;"><span style="letter-spacing:2.2px;margin-right:-2.2px">--</span></div>
<div class="a" style="top:624.57px;font-size:13.5px;line-height:13.5px;color:#8d8f93;-webkit-text-stroke:0.2px #8d8f93;right:203px;text-align:right;"><span style="color:#3bb46b">2</span><span style="color:#8d8f93">/</span><span style="color:#f32e52">1</span></div>
<svg class="a" style="left:1844px;top:626px" width="12" height="12" viewBox="0 0 12 12"><path d="M5 0.6 A4.9 4.9 0 1 0 10.9 6.2" fill="none" stroke="#9a9b9e" stroke-width="1.3"/><path d="M5.3 6.8 Q5.8 3.3 9 2.6" fill="none" stroke="#9a9b9e" stroke-width="1.3" stroke-linecap="round"/><path d="M8.4 0.5 L11.6 2.4 L8.6 4.6Z" fill="#9a9b9e"/></svg>
<div class="a" style="left:89px;top:720px;width:1788px;height:1px;background:#2a2c31"></div>
<div class="a" style="top:685.96px;font-size:9.5px;line-height:9.5px;color:#85878b;-webkit-text-stroke:0.2px #85878b;left:116px;">#3</div>
<svg class="a" style="left:133px;top:675px" width="32" height="32" viewBox="0 0 32 32"><defs><clipPath id="c3"><circle cx="16" cy="16" r="16"/></clipPath></defs><g clip-path="url(#c3)"><rect width="32" height="32" fill="#fafafa"/><path d="M6 4.5 L19 9.5 L22 6.5 L23.5 8 L22.5 15.5 L20 17 L16.5 14 L19 11.5 L6 5.5Z" fill="#2c3a78"/><path d="M2 15 Q8 14 12 18 L19 22 Q17 25 13 24.5 Q7 24 4 21Z" fill="#d8d4d8"/><path d="M6 17 Q10 17 13 20 L18 22.5 Q16 25 12 24.5 Q9 24 7 21Z" fill="#d8a890"/></g></svg>
<div class="a" style="left:153px;top:695px;width:12px;height:12px;background:#08090b;border-radius:50%"></div>
<svg class="a" style="left:155.5px;top:697.8px" width="7" height="6.5" viewBox="0 0 7 6.5"><defs><linearGradient id="sg2" x1="0" y1="0" x2="1" y2="1"><stop offset="0" stop-color="#40d8b0"/><stop offset="1" stop-color="#9a48f0"/></linearGradient></defs><path d="M1.2 0.4 L6.8 0.4 L5.8 1.6 L0.2 1.6Z" fill="url(#sg2)"/><path d="M0.2 2.6 L5.8 2.6 L6.8 3.8 L1.2 3.8Z" fill="#3a3a78" opacity="0.7"/><path d="M1.2 4.8 L6.8 4.8 L5.8 6 L0.2 6Z" fill="#a048f0"/></svg>
<div class="a" style="top:676.53px;font-size:13.9px;line-height:13.9px;color:#f0f0f0;-webkit-text-stroke:0.2px #f0f0f0;left:175px;">HF1</div>
<div class="a" style="top:694.13px;font-size:11.3px;line-height:11.3px;color:#9a9b9e;-webkit-text-stroke:0.2px #9a9b9e;left:175px;">17d</div>
<div class="a" style="top:676.77px;font-size:13.5px;line-height:13.5px;color:#f0f0f0;-webkit-text-stroke:0.2px #f0f0f0;right:1394px;text-align:right;">$54</div>
<div class="a" style="top:694.53px;font-size:11.3px;line-height:11.3px;color:#8d8f93;-webkit-text-stroke:0.2px #8d8f93;right:1393.6px;text-align:right;">13.5M</div>
<div class="a" style="top:676.77px;font-size:13.5px;line-height:13.5px;color:#3bb46b;-webkit-text-stroke:0.2px #3bb46b;right:1223px;text-align:right;">$437.42</div>
<div class="a" style="top:694.53px;font-size:11.3px;line-height:11.3px;color:#3bb46b;-webkit-text-stroke:0.2px #3bb46b;right:1223px;text-align:right;">90.36%</div>
<div class="a" style="top:684.57px;font-size:13.5px;line-height:13.5px;color:#3bb46b;-webkit-text-stroke:0.2px #3bb46b;right:1053px;text-align:right;">$625.47</div>
<div class="a" style="top:684.57px;font-size:13.5px;line-height:13.5px;color:#f32e52;-webkit-text-stroke:0.2px #f32e52;right:883px;text-align:right;">-$188.05</div>
<div class="a" style="top:676.77px;font-size:13.5px;line-height:13.5px;color:#f0f0f0;-webkit-text-stroke:0.2px #f0f0f0;right:713px;text-align:right;">$484.09</div>
<div class="a" style="top:694.53px;font-size:11.3px;line-height:11.3px;color:#8d8f93;-webkit-text-stroke:0.2px #8d8f93;right:713px;text-align:right;">$0.0{4}18</div>
<div class="a" style="top:676.77px;font-size:13.5px;line-height:13.5px;color:#f0f0f0;-webkit-text-stroke:0.2px #f0f0f0;right:543px;text-align:right;">$867.52</div>
<div class="a" style="top:694.53px;font-size:11.3px;line-height:11.3px;color:#8d8f93;-webkit-text-stroke:0.2px #8d8f93;right:543px;text-align:right;">$0.0{4}64</div>
<div class="a" style="top:676.77px;font-size:13.5px;line-height:13.5px;color:#8d8f93;-webkit-text-stroke:0.2px #8d8f93;right:373px;text-align:right;"><span style="letter-spacing:2.2px;margin-right:-2.2px">--</span></div>
<div class="a" style="top:694.53px;font-size:11.3px;line-height:11.3px;color:#8d8f93;-webkit-text-stroke:0.2px #8d8f93;right:373px;text-align:right;"><span style="letter-spacing:2.2px;margin-right:-2.2px">--</span></div>
<div class="a" style="top:684.57px;font-size:13.5px;line-height:13.5px;color:#8d8f93;-webkit-text-stroke:0.2px #8d8f93;right:203px;text-align:right;"><span style="color:#3bb46b">1</span><span style="color:#8d8f93">/</span><span style="color:#f32e52">1</span></div>
<svg class="a" style="left:1844px;top:686px" width="12" height="12" viewBox="0 0 12 12"><path d="M5 0.6 A4.9 4.9 0 1 0 10.9 6.2" fill="none" stroke="#9a9b9e" stroke-width="1.3"/><path d="M5.3 6.8 Q5.8 3.3 9 2.6" fill="none" stroke="#9a9b9e" stroke-width="1.3" stroke-linecap="round"/><path d="M8.4 0.5 L11.6 2.4 L8.6 4.6Z" fill="#9a9b9e"/></svg>
<div class="a" style="left:89px;top:780px;width:1788px;height:1px;background:#2a2c31"></div>
<div class="a" style="top:745.96px;font-size:9.5px;line-height:9.5px;color:#85878b;-webkit-text-stroke:0.2px #85878b;left:116px;">#4</div>
<div class="a" style="left:133px;top:735px;width:32px;height:32px;border-radius:50%;background:#b23ff0;color:#fff;font-family:'Liberation Serif',serif;font-weight:bold;font-size:17px;line-height:32px;text-align:center">D</div>
<div class="a" style="left:153px;top:755px;width:12px;height:12px;background:#08090b;border-radius:50%"></div>
<svg class="a" style="left:155.5px;top:757.8px" width="7" height="6.5" viewBox="0 0 7 6.5"><defs><linearGradient id="sg3" x1="0" y1="0" x2="1" y2="1"><stop offset="0" stop-color="#40d8b0"/><stop offset="1" stop-color="#9a48f0"/></linearGradient></defs><path d="M1.2 0.4 L6.8 0.4 L5.8 1.6 L0.2 1.6Z" fill="url(#sg3)"/><path d="M0.2 2.6 L5.8 2.6 L6.8 3.8 L1.2 3.8Z" fill="#3a3a78" opacity="0.7"/><path d="M1.2 4.8 L6.8 4.8 L5.8 6 L0.2 6Z" fill="#a048f0"/></svg>
<div class="a" style="top:736.53px;font-size:13.9px;line-height:13.9px;color:#f0f0f0;-webkit-text-stroke:0.2px #f0f0f0;left:175px;">Defend</div>
<div class="a" style="top:754.13px;font-size:11.3px;line-height:11.3px;color:#9a9b9e;-webkit-text-stroke:0.2px #9a9b9e;left:175px;"><span style="letter-spacing:2.2px;margin-right:-2.2px">--</span></div>
<svg class="a" style="left:225px;top:736px" width="13" height="11" viewBox="0 0 13 11"><path d="M6.5 0.6 L12.3 10.5 L0.7 10.5Z" fill="#fc0d1f" stroke="#fc0d1f" stroke-width="0.6" stroke-linejoin="round"/><path d="M6 3.6 L7 3.6 L6.8 7.4 L6.2 7.4Z" fill="#0e0f11"/><circle cx="6.5" cy="8.6" r="0.6" fill="#0e0f11"/></svg>
<div class="a" style="top:736.77px;font-size:13.5px;line-height:13.5px;color:#f0f0f0;-webkit-text-stroke:0.2px #f0f0f0;right:1394px;text-align:right;">$118.6</div>
<div class="a" style="top:754.53px;font-size:11.3px;line-height:11.3px;color:#8d8f93;-webkit-text-stroke:0.2px #8d8f93;right:1393.6px;text-align:right;">100K</div>
<div class="a" style="top:736.77px;font-size:13.5px;line-height:13.5px;color:#9c9da0;-webkit-text-stroke:0.2px #9c9da0;right:1223px;text-align:right;">$0</div>
<div class="a" style="top:754.53px;font-size:11.3px;line-height:11.3px;color:#8d8f93;-webkit-text-stroke:0.2px #8d8f93;right:1223px;text-align:right;"><span style="letter-spacing:2.2px;margin-right:-2.2px">--</span></div>
<div class="a" style="top:744.57px;font-size:13.5px;line-height:13.5px;color:#9c9da0;-webkit-text-stroke:0.2px #9c9da0;right:1053px;text-align:right;">$0</div>
<div class="a" style="top:744.57px;font-size:13.5px;line-height:13.5px;color:#9c9da0;-webkit-text-stroke:0.2px #9c9da0;right:883px;text-align:right;">$0</div>
<div class="a" style="top:736.77px;font-size:13.5px;line-height:13.5px;color:#8d8f93;-webkit-text-stroke:0.2px #8d8f93;right:713px;text-align:right;"><span style="letter-spacing:2.2px;margin-right:-2.2px">--</span></div>
<div class="a" style="top:754.53px;font-size:11.3px;line-height:11.3px;color:#8d8f93;-webkit-text-stroke:0.2px #8d8f93;right:713px;text-align:right;"><span style="letter-spacing:2.2px;margin-right:-2.2px">--</span></div>
<div class="a" style="top:736.77px;font-size:13.5px;line-height:13.5px;color:#8d8f93;-webkit-text-stroke:0.2px #8d8f93;right:543px;text-align:right;"><span style="letter-spacing:2.2px;margin-right:-2.2px">--</span></div>
<div class="a" style="top:754.53px;font-size:11.3px;line-height:11.3px;color:#8d8f93;-webkit-text-stroke:0.2px #8d8f93;right:543px;text-align:right;"><span style="letter-spacing:2.2px;margin-right:-2.2px">--</span></div>
<div class="a" style="top:736.77px;font-size:13.5px;line-height:13.5px;color:#3bb46b;-webkit-text-stroke:0.2px #3bb46b;right:373px;text-align:right;">100K</div>
<div class="a" style="top:754.53px;font-size:11.3px;line-height:11.3px;color:#8d8f93;-webkit-text-stroke:0.2px #8d8f93;right:373px;text-align:right;"><span style="letter-spacing:2.2px;margin-right:-2.2px">--</span></div>
<div class="a" style="top:744.57px;font-size:13.5px;line-height:13.5px;color:#8d8f93;-webkit-text-stroke:0.2px #8d8f93;right:203px;text-align:right;"><span style="color:#8d8f93"><span style="letter-spacing:1.6px;margin-right:-1.6px">--/--</span></span></div>
<svg class="a" style="left:1844px;top:746px" width="12" height="12" viewBox="0 0 12 12"><path d="M5 0.6 A4.9 4.9 0 1 0 10.9 6.2" fill="none" stroke="#9a9b9e" stroke-width="1.3"/><path d="M5.3 6.8 Q5.8 3.3 9 2.6" fill="none" stroke="#9a9b9e" stroke-width="1.3" stroke-linecap="round"/><path d="M8.4 0.5 L11.6 2.4 L8.6 4.6Z" fill="#9a9b9e"/></svg>
<div class="a" style="left:89px;top:840px;width:1788px;height:1px;background:#2a2c31"></div>
<div class="a" style="top:805.96px;font-size:9.5px;line-height:9.5px;color:#85878b;-webkit-text-stroke:0.2px #85878b;left:116px;">#5</div>
<svg class="a" style="left:133px;top:795px" width="32" height="32" viewBox="0 0 32 32"><defs><clipPath id="c5"><circle cx="16" cy="16" r="16"/></clipPath></defs><g clip-path="url(#c5)"><rect width="32" height="32" fill="#1e2040"/><rect x="0" y="0" width="32" height="10" fill="#34407a"/><path d="M4 10 L6 3 L8 10 M11 10 L13 2 L15 10 M18 10 L20 3 L22 10 M25 10 L27 4 L29 10" stroke="#c8c0c8" stroke-width="1.6" opacity="0.6"/><circle cx="7" cy="6" r="1.8" fill="#d8b0a0" opacity="0.8"/><circle cx="14" cy="5" r="1.8" fill="#d8b0a0" opacity="0.8"/><circle cx="21" cy="6" r="1.8" fill="#d8b0a0" opacity="0.8"/><rect x="2" y="10" width="28" height="9" fill="#c0141c"/><rect x="5" y="19" width="22" height="6" fill="#a8101a"/><rect x="8" y="25" width="16" height="4" fill="#701018"/><rect x="4" y="12.5" width="24" height="1.5" fill="#2a0606" opacity="0.8"/><rect x="4" y="15.5" width="24" height="1.5" fill="#2a0606" opacity="0.8"/><rect x="8" y="21" width="16" height="1.5" fill="#2a0606" opacity="0.8"/><rect x="1" y="19" width="4" height="13" fill="#c8c8d0" opacity="0.8"/><rect x="27" y="12" width="4" height="14" fill="#d0d0d8" opacity="0.6"/><rect x="13" y="28" width="6" height="4" fill="#3a60c0"/></g></svg>
<div class="a" style="left:153px;top:815px;width:12px;height:12px;background:#08090b;border-radius:50%"></div>
<svg class="a" style="left:155.5px;top:817.8px" width="7" height="6.5" viewBox="0 0 7 6.5"><defs><linearGradient id="sg4" x1="0" y1="0" x2="1" y2="1"><stop offset="0" stop-color="#40d8b0"/><stop offset="1" stop-color="#9a48f0"/></linearGradient></defs><path d="M1.2 0.4 L6.8 0.4 L5.8 1.6 L0.2 1.6Z" fill="url(#sg4)"/><path d="M0.2 2.6 L5.8 2.6 L6.8 3.8 L1.2 3.8Z" fill="#3a3a78" opacity="0.7"/><path d="M1.2 4.8 L6.8 4.8 L5.8 6 L0.2 6Z" fill="#a048f0"/></svg>
<div class="a" style="top:796.53px;font-size:13.9px;line-height:13.9px;color:#f0f0f0;-webkit-text-stroke:0.2px #f0f0f0;left:175px;">FuckTrumps</div>
<div class="a" style="top:814.13px;font-size:11.3px;line-height:11.3px;color:#9a9b9e;-webkit-text-stroke:0.2px #9a9b9e;left:175px;"><span style="letter-spacing:2.2px;margin-right:-2.2px">--</span></div>
<div class="a" style="top:796.77px;font-size:13.5px;line-height:13.5px;color:#f0f0f0;-webkit-text-stroke:0.2px #f0f0f0;right:1394px;text-align:right;">$0.16</div>
<div class="a" style="top:814.53px;font-size:11.3px;line-height:11.3px;color:#8d8f93;-webkit-text-stroke:0.2px #8d8f93;right:1393.6px;text-align:right;">22.5K</div>
<div class="a" style="top:796.77px;font-size:13.5px;line-height:13.5px;color:#9c9da0;-webkit-text-stroke:0.2px #9c9da0;right:1223px;text-align:right;">$0</div>
<div class="a" style="top:814.53px;font-size:11.3px;line-height:11.3px;color:#8d8f93;-webkit-text-stroke:0.2px #8d8f93;right:1223px;text-align:right;"><span style="letter-spacing:2.2px;margin-right:-2.2px">--</span></div>
<div class="a" style="top:804.57px;font-size:13.5px;line-height:13.5px;color:#9c9da0;-webkit-text-stroke:0.2px #9c9da0;right:1053px;text-align:right;">$0</div>
<div class="a" style="top:804.57px;font-size:13.5px;line-height:13.5px;color:#9c9da0;-webkit-text-stroke:0.2px #9c9da0;right:883px;text-align:right;">$0</div>
<div class="a" style="top:796.77px;font-size:13.5px;line-height:13.5px;color:#8d8f93;-webkit-text-stroke:0.2px #8d8f93;right:713px;text-align:right;"><span style="letter-spacing:2.2px;margin-right:-2.2px">--</span></div>
<div class="a" style="top:814.53px;font-size:11.3px;line-height:11.3px;color:#8d8f93;-webkit-text-stroke:0.2px #8d8f93;right:713px;text-align:right;"><span style="letter-spacing:2.2px;margin-right:-2.2px">--</span></div>
<div class="a" style="top:796.77px;font-size:13.5px;line-height:13.5px;color:#8d8f93;-webkit-text-stroke:0.2px #8d8f93;right:543px;text-align:right;"><span style="letter-spacing:2.2px;margin-right:-2.2px">--</span></div>
<div class="a" style="top:814.53px;font-size:11.3px;line-height:11.3px;color:#8d8f93;-webkit-text-stroke:0.2px #8d8f93;right:543px;text-align:right;"><span style="letter-spacing:2.2px;margin-right:-2.2px">--</span></div>
<div class="a" style="top:796.77px;font-size:13.5px;line-height:13.5px;color:#3bb46b;-webkit-text-stroke:0.2px #3bb46b;right:373px;text-align:right;">22.5K</div>
<div class="a" style="top:814.53px;font-size:11.3px;line-height:11.3px;color:#8d8f93;-webkit-text-stroke:0.2px #8d8f93;right:373px;text-align:right;"><span style="letter-spacing:2.2px;margin-right:-2.2px">--</span></div>
<div class="a" style="top:804.57px;font-size:13.5px;line-height:13.5px;color:#8d8f93;-webkit-text-stroke:0.2px #8d8f93;right:203px;text-align:right;"><span style="color:#8d8f93"><span style="letter-spacing:1.6px;margin-right:-1.6px">--/--</span></span></div>
<svg class="a" style="left:1844px;top:806px" width="12" height="12" viewBox="0 0 12 12"><path d="M5 0.6 A4.9 4.9 0 1 0 10.9 6.2" fill="none" stroke="#9a9b9e" stroke-width="1.3"/><path d="M5.3 6.8 Q5.8 3.3 9 2.6" fill="none" stroke="#9a9b9e" stroke-width="1.3" stroke-linecap="round"/><path d="M8.4 0.5 L11.6 2.4 L8.6 4.6Z" fill="#9a9b9e"/></svg>
<div class="a" style="left:89px;top:900px;width:1788px;height:1px;background:#2a2c31"></div>
<div class="a" style="top:865.96px;font-size:9.5px;line-height:9.5px;color:#85878b;-webkit-text-stroke:0.2px #85878b;left:116px;">#6</div>
<div class="a" style="left:133px;top:855px;width:32px;height:32px;border-radius:50%;background:#b23ff0;color:#fff;font-family:'Liberation Serif',serif;font-weight:bold;font-size:17px;line-height:32px;text-align:center">T</div>
<div class="a" style="left:153px;top:875px;width:12px;height:12px;background:#08090b;border-radius:50%"></div>
<svg class="a" style="left:155.5px;top:877.8px" width="7" height="6.5" viewBox="0 0 7 6.5"><defs><linearGradient id="sg5" x1="0" y1="0" x2="1" y2="1"><stop offset="0" stop-color="#40d8b0"/><stop offset="1" stop-color="#9a48f0"/></linearGradient></defs><path d="M1.2 0.4 L6.8 0.4 L5.8 1.6 L0.2 1.6Z" fill="url(#sg5)"/><path d="M0.2 2.6 L5.8 2.6 L6.8 3.8 L1.2 3.8Z" fill="#3a3a78" opacity="0.7"/><path d="M1.2 4.8 L6.8 4.8 L5.8 6 L0.2 6Z" fill="#a048f0"/></svg>
<div class="a" style="top:856.53px;font-size:13.9px;line-height:13.9px;color:#f0f0f0;-webkit-text-stroke:0.2px #f0f0f0;left:175px;">TrumpMap</div>
<div class="a" style="top:874.13px;font-size:11.3px;line-height:11.3px;color:#9a9b9e;-webkit-text-stroke:0.2px #9a9b9e;left:175px;"><span style="letter-spacing:2.2px;margin-right:-2.2px">--</span></div>
<div class="a" style="top:856.77px;font-size:13.5px;line-height:13.5px;color:#f0f0f0;-webkit-text-stroke:0.2px #f0f0f0;right:1394px;text-align:right;">$0.16</div>
<div class="a" style="top:874.53px;font-size:11.3px;line-height:11.3px;color:#8d8f93;-webkit-text-stroke:0.2px #8d8f93;right:1393.6px;text-align:right;">22.5K</div>
<div class="a" style="top:856.77px;font-size:13.5px;line-height:13.5px;color:#9c9da0;-webkit-text-stroke:0.2px #9c9da0;right:1223px;text-align:right;">$0</div>
<div class="a" style="top:874.53px;font-size:11.3px;line-height:11.3px;color:#8d8f93;-webkit-text-stroke:0.2px #8d8f93;right:1223px;text-align:right;"><span style="letter-spacing:2.2px;margin-right:-2.2px">--</span></div>
<div class="a" style="top:864.57px;font-size:13.5px;line-height:13.5px;color:#9c9da0;-webkit-text-stroke:0.2px #9c9da0;right:1053px;text-align:right;">$0</div>
<div class="a" style="top:864.57px;font-size:13.5px;line-height:13.5px;color:#9c9da0;-webkit-text-stroke:0.2px #9c9da0;right:883px;text-align:right;">$0</div>
<div class="a" style="top:856.77px;font-size:13.5px;line-height:13.5px;color:#8d8f93;-webkit-text-stroke:0.2px #8d8f93;right:713px;text-align:right;"><span style="letter-spacing:2.2px;margin-right:-2.2px">--</span></div>
<div class="a" style="top:874.53px;font-size:11.3px;line-height:11.3px;color:#8d8f93;-webkit-text-stroke:0.2px #8d8f93;right:713px;text-align:right;"><span style="letter-spacing:2.2px;margin-right:-2.2px">--</span></div>
<div class="a" style="top:856.77px;font-size:13.5px;line-height:13.5px;color:#8d8f93;-webkit-text-stroke:0.2px #8d8f93;right:543px;text-align:right;"><span style="letter-spacing:2.2px;margin-right:-2.2px">--</span></div>
<div class="a" style="top:874.53px;font-size:11.3px;line-height:11.3px;color:#8d8f93;-webkit-text-stroke:0.2px #8d8f93;right:543px;text-align:right;"><span style="letter-spacing:2.2px;margin-right:-2.2px">--</span></div>
<div class="a" style="top:856.77px;font-size:13.5px;line-height:13.5px;color:#3bb46b;-webkit-text-stroke:0.2px #3bb46b;right:373px;text-align:right;">22.5K</div>
<div class="a" style="top:874.53px;font-size:11.3px;line-height:11.3px;color:#8d8f93;-webkit-text-stroke:0.2px #8d8f93;right:373px;text-align:right;"><span style="letter-spacing:2.2px;margin-right:-2.2px">--</span></div>
<div class="a" style="top:864.57px;font-size:13.5px;line-height:13.5px;color:#8d8f93;-webkit-text-stroke:0.2px #8d8f93;right:203px;text-align:right;"><span style="color:#8d8f93"><span style="letter-spacing:1.6px;margin-right:-1.6px">--/--</span></span></div>
<svg class="a" style="left:1844px;top:866px" width="12" height="12" viewBox="0 0 12 12"><path d="M5 0.6 A4.9 4.9 0 1 0 10.9 6.2" fill="none" stroke="#9a9b9e" stroke-width="1.3"/><path d="M5.3 6.8 Q5.8 3.3 9 2.6" fill="none" stroke="#9a9b9e" stroke-width="1.3" stroke-linecap="round"/><path d="M8.4 0.5 L11.6 2.4 L8.6 4.6Z" fill="#9a9b9e"/></svg>
<div class="a" style="left:84px;top:500px;width:191px;height:393px;border:3px solid #f2231f;border-radius:6px"></div>
</body></html>
